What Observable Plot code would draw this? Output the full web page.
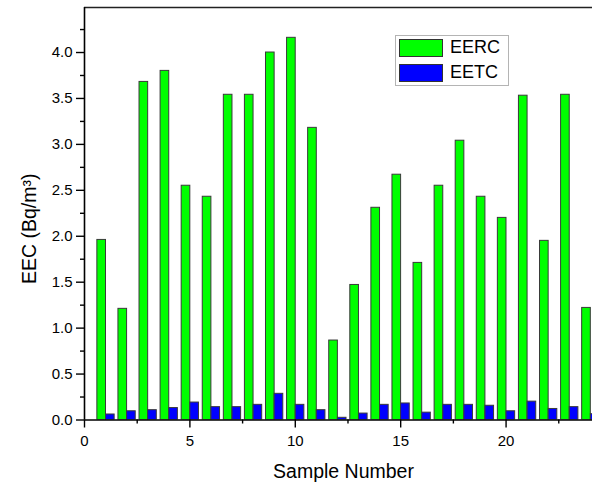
<!DOCTYPE html>
<html>
<head>
<meta charset="utf-8">
<script src="https://cdn.jsdelivr.net/npm/d3@7"></script>
<script src="https://cdn.jsdelivr.net/npm/@observablehq/plot@0.6"></script>
<style>
  html, body { margin: 0; padding: 0; background: #fff; }
  #wrap { position: relative; width: 592px; height: 486px; overflow: hidden; font-family: "Liberation Sans", Arial, sans-serif; }
  #legend { position: absolute; left: 395px; top: 35px; width: 112px; height: 49px; border: 1px solid #b4b4b4; background: #fff; }
  .row { position: absolute; left: 3px; height: 18px; }
  .sw { position: absolute; left: 0; top: 0; width: 42px; height: 16px; border: 1px solid #333; }
  .lab { position: absolute; left: 51px; top: -3px; font-size: 18px; line-height: 22px; color: #000; }
</style>
</head>
<body>
<div id="wrap">
  <div id="chart"></div>
  <div id="legend"></div>
</div>
<script>
const samples = [1,2,3,4,5,6,7,8,9,10,11,12,13,14,15,16,17,18,19,20,21,22,23,24];
const eerc = [1.96,1.21,3.68,3.80,2.55,2.43,3.54,3.54,4.00,4.16,3.18,0.865,1.47,2.31,2.67,1.71,2.55,3.04,2.43,2.20,3.53,1.95,3.54,1.22];
const eetc = [0.06,0.095,0.107,0.13,0.19,0.14,0.14,0.165,0.285,0.165,0.107,0.024,0.07,0.165,0.18,0.08,0.165,0.165,0.155,0.095,0.20,0.12,0.14,0.063];
const seriesNames = ["EERC", "EETC"];
const seriesColors = ["#00ff00", "#0000ff"];
const xMajor = [0, 5, 10, 15, 20];
const xMinor = [2.5, 7.5, 12.5, 17.5, 22.5];
const yMajor = [0, 0.5, 1.0, 1.5, 2.0, 2.5, 3.0, 3.5, 4.0];
const yMinor = [0.25, 0.75, 1.25, 1.75, 2.25, 2.75, 3.25, 3.75, 4.25];
const xDomain = [0, 24.1];
const yDomain = [0, 4.49];

const rows = [];
samples.forEach((s, i) => {
  rows.push({s, v: eerc[i], series: seriesNames[0], k: 0});
  rows.push({s, v: eetc[i], series: seriesNames[1], k: 1});
});
const barW = 0.41;
const off = 0.02;

const plot = Plot.plot({
  width: 592,
  height: 486,
  marginLeft: 84,
  marginRight: 0,
  marginTop: 7,
  marginBottom: 66.5,
  style: {fontFamily: "'Liberation Sans', Arial, sans-serif", fontSize: "15px", color: "#000", background: "#fff"},
  x: {domain: xDomain, axis: null},
  y: {domain: yDomain, axis: null},
  color: {domain: seriesNames, range: seriesColors},
  marks: [
    Plot.rectY(rows, {
      x1: d => d.k === 0 ? d.s - barW + off : d.s + off,
      x2: d => d.k === 0 ? d.s + off : d.s + barW + off,
      y: "v",
      fill: "series",
      stroke: "#3a3a3a",
      strokeWidth: 1,
      clip: true
    }),
    Plot.ruleY([yDomain[0]], {stroke: "#000", strokeWidth: 1.6}),
    Plot.ruleY([yDomain[1]], {stroke: "#222", strokeWidth: 1.4}),
    Plot.ruleX([xDomain[0]], {stroke: "#000", strokeWidth: 1.6}),
    Plot.axisX({ticks: xMajor, tickSize: 8, tickPadding: 7, strokeWidth: 1.4, fontSize: 15, label: null, tickFormat: d => String(d)}),
    Plot.axisX({ticks: xMinor, tickSize: 4, strokeWidth: 1.4, label: null, tickFormat: () => ""}),
    Plot.axisY({ticks: yMajor, tickSize: 8, tickPadding: 4, strokeWidth: 1.4, fontSize: 15, label: null, tickFormat: d3.format(".1f")}),
    Plot.axisY({ticks: yMinor, tickSize: 4, strokeWidth: 1.4, label: null, tickFormat: () => ""}),
    Plot.text(["EEC (Bq/m³)"], {frameAnchor: "left", textAnchor: "middle", lineAnchor: "middle", rotate: -90, dx: -55, dy: 15, fontSize: 19.5, fill: "#000"}),
    Plot.text(["Sample Number"], {frameAnchor: "bottom", textAnchor: "middle", lineAnchor: "middle", dy: 52, dx: 5, fontSize: 19.5, fill: "#000"})
  ]
});
document.getElementById("chart").appendChild(plot);

const legend = document.getElementById("legend");
seriesNames.forEach((name, i) => {
  const row = document.createElement("div");
  row.className = "row";
  row.style.top = (3 + i * 25) + "px";
  const sw = document.createElement("div");
  sw.className = "sw";
  sw.style.background = seriesColors[i];
  const lab = document.createElement("div");
  lab.className = "lab";
  lab.textContent = name;
  row.appendChild(sw);
  row.appendChild(lab);
  legend.appendChild(row);
});
</script>
</body>
</html>
